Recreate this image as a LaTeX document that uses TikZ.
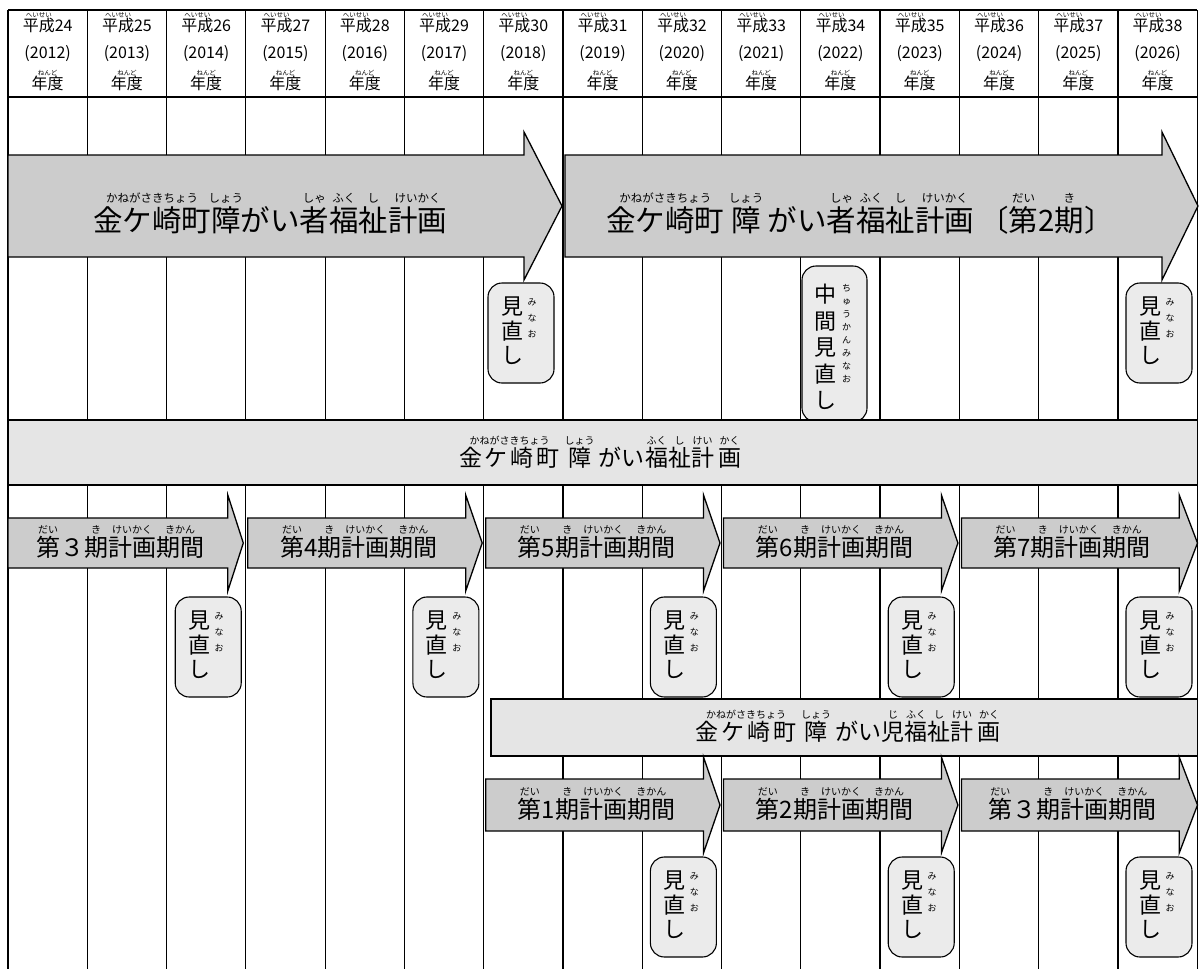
\documentclass[tikz,border=0pt]{standalone}
\usepackage{fontspec}
\setmainfont{Noto Sans CJK JP}
\newcommand\rubyfont{\fontsize{10}{10}\selectfont}
\newcommand\rubyraise{0.95em}
\newcommand\rb[2]{\setbox0\hbox{#1}\setbox2\hbox{\rubyfont #2}\hbox to \wd0{\hss\raise\rubyraise\box2\relax\hss}\kern-\wd0\box0\relax}
\tikzset{
 gridline/.style={line width=1.2pt},
 arr/.style={draw, line width=1.3pt, fill=black!20, line join=miter},
 banner/.style={draw, line width=1.2pt, fill=black!10},
 revbox/.style={draw, line width=1.1pt, fill=black!8, rounded corners=14pt, inner sep=0pt},
 hdr/.style={font={\fontsize{16}{16}\selectfont\def\rubyfont{\fontsize{6.5}{7}\selectfont}\def\rubyraise{0.85em}}, anchor=base, inner sep=0pt},
 bigtxt/.style={font={\fontsize{29.5}{30}\selectfont\def\rubyfont{\fontsize{11.5}{12}\selectfont}}, anchor=base, inner sep=0pt},
 midtxt/.style={font={\fontsize{23}{24}\selectfont\def\rubyfont{\fontsize{10}{10}\selectfont}}, anchor=base, inner sep=0pt},
 pertxt/.style={font={\fontsize{24}{25}\selectfont\def\rubyfont{\fontsize{10}{10}\selectfont}}, anchor=base, inner sep=0pt},
 vmain/.style={font=\fontsize{22}{24.5}\selectfont, align=center, inner sep=0pt},
 vruby/.style={font=\fontsize{9}{16}\selectfont, align=center, inner sep=0pt},
 vmainb/.style={font=\fontsize{22}{26.5}\selectfont, align=center, inner sep=0pt},
 vrubyb/.style={font=\fontsize{9}{13}\selectfont, align=center, inner sep=0pt},
}
\newcommand\blockarrow[7]{\path[arr] (#1,#4) -- (#2,#4) -- (#2,#6) -- (#3,{(#6+#7)/2}) -- (#2,#7) -- (#2,#5) -- (#1,#5) -- cycle;}
\newcommand\review[3]{%
 \node[revbox, minimum width=66pt, minimum height=100pt] (#1) at (#2,#3) {};
 \node[vmain] (#1m) at ([xshift=-9pt,yshift=2pt]#1.center) {見\\直\\し};
 \node[vruby] (#1r) at ([xshift=11pt,yshift=14.5pt]#1.center) {み\\な\\お};
}
\newcommand\periodtext[1]{\rb{第}{だい}#1\rb{期}{き}\rb{計画}{けいかく}\rb{期間}{きかん}}
\begin{document}
\begin{tikzpicture}[x=1pt,y=-1pt]
\useasboundingbox (0,0) rectangle (1199,969);
\fill[white] (0,0) rectangle (1199,969);
% grid
\foreach \i in {0,...,15} \draw[gridline] ({8+79.28*\i},10) -- ({8+79.28*\i},969);
\draw[gridline] (8,10) -- (1197.2,10);
\draw[gridline] (8,97) -- (1197.2,97);
% header
\foreach \i/\h/\yr in {0/24/2012,1/25/2013,2/26/2014,3/27/2015,4/28/2016,5/29/2017,6/30/2018,7/31/2019,8/32/2020,9/33/2021,10/34/2022,11/35/2023,12/36/2024,13/37/2025,14/38/2026}{
 \node[hdr] (ha\i) at ({8+79.28*(\i+0.5)},31) {\rb{平成}{へいせい}\h};
 \node[hdr] (hb\i) at ({8+79.28*(\i+0.5)},58) {(\yr)};
 \node[hdr] (hc\i) at ({8+79.28*(\i+0.5)},89) {\rb{年度}{ねんど}};
}
% top arrows
\blockarrow{8}{524}{562}{155}{257}{132}{280}
\blockarrow{565}{1162}{1198}{155}{257}{132}{280}
\node[bigtxt] (ta1) at (270,231) {\rb{金ケ崎町}{かねがさきちょう}\rb{障}{しょう}がい\rb{者}{しゃ}\rb{福}{ふく}\rb{祉}{し}\rb{計画}{けいかく}};
\node[bigtxt] (ta2) at (860,231) {\rb{金ケ崎町}{かねがさきちょう}\kern7pt\rb{障}{しょう}\kern7ptがい\rb{者}{しゃ}\rb{福}{ふく}\rb{祉}{し}\rb{計画}{けいかく}\kern5pt〔\rb{第}{だい}2\rb{期}{き}〕};
% top reviews
\review{ra}{521}{333}
\review{rb}{1159}{333}
\node[revbox, minimum width=65pt, minimum height=156pt] (mid) at (834.5,344) {};
\node[vmainb] (midm) at ([xshift=-9.5pt,yshift=-3pt]mid.center) {中\\間\\見\\直\\し};
\node[vrubyb] (midr) at ([xshift=12pt,yshift=10pt]mid.center) {ち\\ゅ\\う\\か\\ん\\み\\な\\お};
% middle banner
\path[banner] (8,420) rectangle (1197.2,485);
\node[midtxt] (bt1) at (600,466) {\rb{金\kern3ptケ\kern3pt崎\kern3pt町}{かねがさきちょう}\kern8pt\rb{障}{しょう}\kern8ptがい\rb{福}{ふく}\rb{祉}{し}\rb{計}{けい}\kern4pt\rb{画}{かく}};
% row 2 arrows
\blockarrow{8}{227.8}{243.3}{518}{568}{495}{591}
\blockarrow{247.8}{465.7}{482.2}{518}{568}{495}{591}
\blockarrow{485.7}{703.5}{720}{518}{568}{495}{591}
\blockarrow{723.5}{941.4}{957.9}{518}{568}{495}{591}
\blockarrow{961.4}{1179.2}{1197.5}{518}{568}{495}{591}
\node[pertxt] (p1) at (120,556) {\periodtext{３}};
\node[pertxt] (p2) at (358.8,556) {\periodtext{4}};
\node[pertxt] (p3) at (596.6,556) {\periodtext{5}};
\node[pertxt] (p4) at (834.5,556) {\periodtext{6}};
\node[pertxt] (p5) at (1072.3,556) {\periodtext{7}};
\review{rc}{208.2}{647}
\review{rd}{445.9}{647}
\review{re}{683.4}{647}
\review{rf}{921.2}{647}
\review{rg}{1159}{647}
% lower banner
\path[banner] (491,699) rectangle (1197.2,756);
\node[midtxt] (bt2) at (848,740) {\rb{金\kern3ptケ\kern3pt崎\kern3pt町}{かねがさきちょう}\kern8pt\rb{障}{しょう}\kern8ptがい\rb{児}{じ}\rb{福}{ふく}\rb{祉}{し}\rb{計}{けい}\kern4pt\rb{画}{かく}};
% row 3 arrows
\blockarrow{485.7}{703.5}{720}{779}{831}{757}{853}
\blockarrow{723.5}{941.4}{957.9}{779}{831}{757}{853}
\blockarrow{961.4}{1179.2}{1197.5}{779}{831}{757}{853}
\node[pertxt] (q1) at (596.6,818) {\periodtext{1}};
\node[pertxt] (q2) at (834.5,818) {\periodtext{2}};
\node[pertxt] (q3) at (1072.3,818) {\periodtext{３}};
\review{rh}{683.4}{907}
\review{ri}{921.2}{907}
\review{rj}{1159}{907}
\end{tikzpicture}
\end{document}
